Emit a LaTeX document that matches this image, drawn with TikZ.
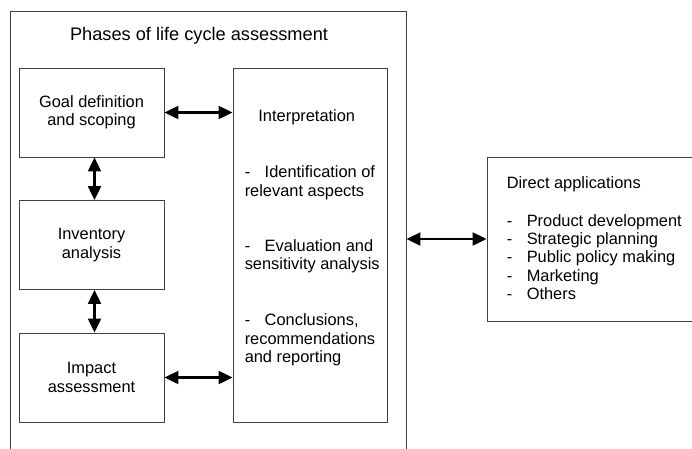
\documentclass[tikz,border=0pt]{standalone}
\usepackage{fontspec}
\setmainfont{Liberation Sans}
\usetikzlibrary{arrows.meta}
\usetikzlibrary{calc}

\begin{document}
\begin{tikzpicture}[x=1pt,y=-1pt]
\useasboundingbox (0,0) rectangle (692,448);
            \begin{scope}[node distance=132.5pt,font=\fontsize{16.4}{18.3}\selectfont,
              frame/.style={rectangle,draw=black!75,line width=0.9pt,inner sep=0pt},
              main node/.style={frame,minimum width=145pt,minimum height=89pt,align=center},
              link/.style={<->,>={Triangle[length=14pt,width=13pt]},line width=2.2pt}]
            % outer frame and title
            \node[frame,minimum width=396pt,minimum height=450pt] (0) at (208,236) {};
            \node[anchor=base,font=\fontsize{18.2}{20}\selectfont] (title) at (199,40) {Phases of life cycle assessment};
            % phases
            \node[main node] (1) at (91.5,112.5) {Goal definition\\and scoping};
            \node[main node] (2) [below of=1] {Inventory\\analysis};
            \node[main node] (3) [below of=2] {Impact\\assessment};
            \node[frame,minimum width=154pt,minimum height=354pt] (4) at (310,245) {};
            \node[anchor=base west,align=left,inner sep=0pt] (interp) at ($(4.north west)+(12,295)$)
              {\makebox[124pt]{Interpretation}\\[38pt]
               \makebox[20pt][l]{-}Identification of\\relevant aspects\\[37pt]
               \makebox[20pt][l]{-}Evaluation and\\sensitivity analysis\\[38pt]
               \makebox[20pt][l]{-}Conclusions,\\recommendations\\and reporting};
            % applications
            \node[frame,minimum width=213pt,minimum height=164pt] (5) at (593.5,239) {};
            \node[anchor=base west,align=left,inner sep=0pt] (apps) at ($(5.north west)+(20,143)$)
              {Direct applications\\[19.5pt]
               \makebox[20pt][l]{-}Product development\\
               \makebox[20pt][l]{-}Strategic planning\\
               \makebox[20pt][l]{-}Public policy making\\
               \makebox[20pt][l]{-}Marketing\\
               \makebox[20pt][l]{-}Others};
            % connectors
            \draw[link] (1.east) -- (1.east -| 4.west);
            \draw[link] ([xshift=3pt]1.south) -- ([xshift=3pt]2.north);
            \draw[link] ([xshift=3pt]2.south) -- ([xshift=3pt]3.north);
            \draw[link] (3.east) -- (3.east -| 4.west);
            \draw[link] (5.west -| 0.east) -- (5.west);
            \end{scope}
\end{tikzpicture}
\end{document}
